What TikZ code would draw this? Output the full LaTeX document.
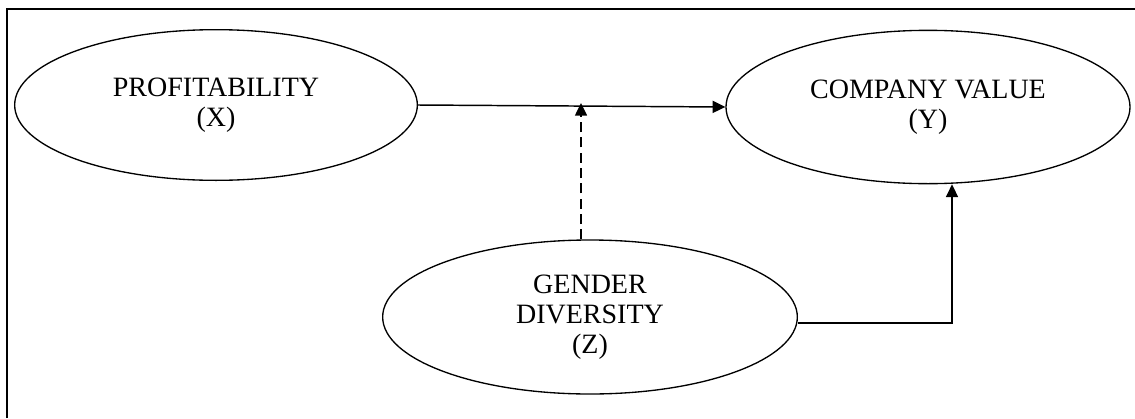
\documentclass[tikz,border=0pt]{standalone}
\usepackage{fontspec}
\setmainfont{Liberation Serif}
\usepackage{tikz}
\usetikzlibrary{shapes.geometric,arrows.meta}

\begin{document}
\begin{tikzpicture} [x=0.75pt, y=-0.75pt,
  var/.style={draw, ellipse, line width=1pt, inner sep=0pt, align=center,
    font=\fontsize{21}{22.5}\selectfont},
  link/.style={-{Triangle[length=9.5pt,width=9pt]}, line width=1.1pt} ]
\useasboundingbox (0,0) rectangle (1135,418);
% frame, only top and left edges visible
\draw[line width=1.4pt] (7,418) -- (7,9) -- (1135,9);

\node[var, minimum width=302pt, minimum height=113pt] (x) at (216,105) {PROFITABILITY\\(X)};
\node[var, minimum width=303pt, minimum height=115pt] (y) at (928,107) {COMPANY VALUE\\(Y)};
\node[var, minimum width=311pt, minimum height=115.5pt] (z) at (590,317) {GENDER\\DIVERSITY\\(Z)};

\coordinate (mod) at (581,103);
\coordinate (bend) at (952,323);

%TODO: Pfeile
\draw[link] (x.east) -- (y.west);
\draw[link, dash pattern=on 7.5pt off 4pt] (z.north -| mod) -- (mod);
\draw[link] (z.east |- bend) -- (bend) -- (y.south -| bend);
\end{tikzpicture}
\end{document}
